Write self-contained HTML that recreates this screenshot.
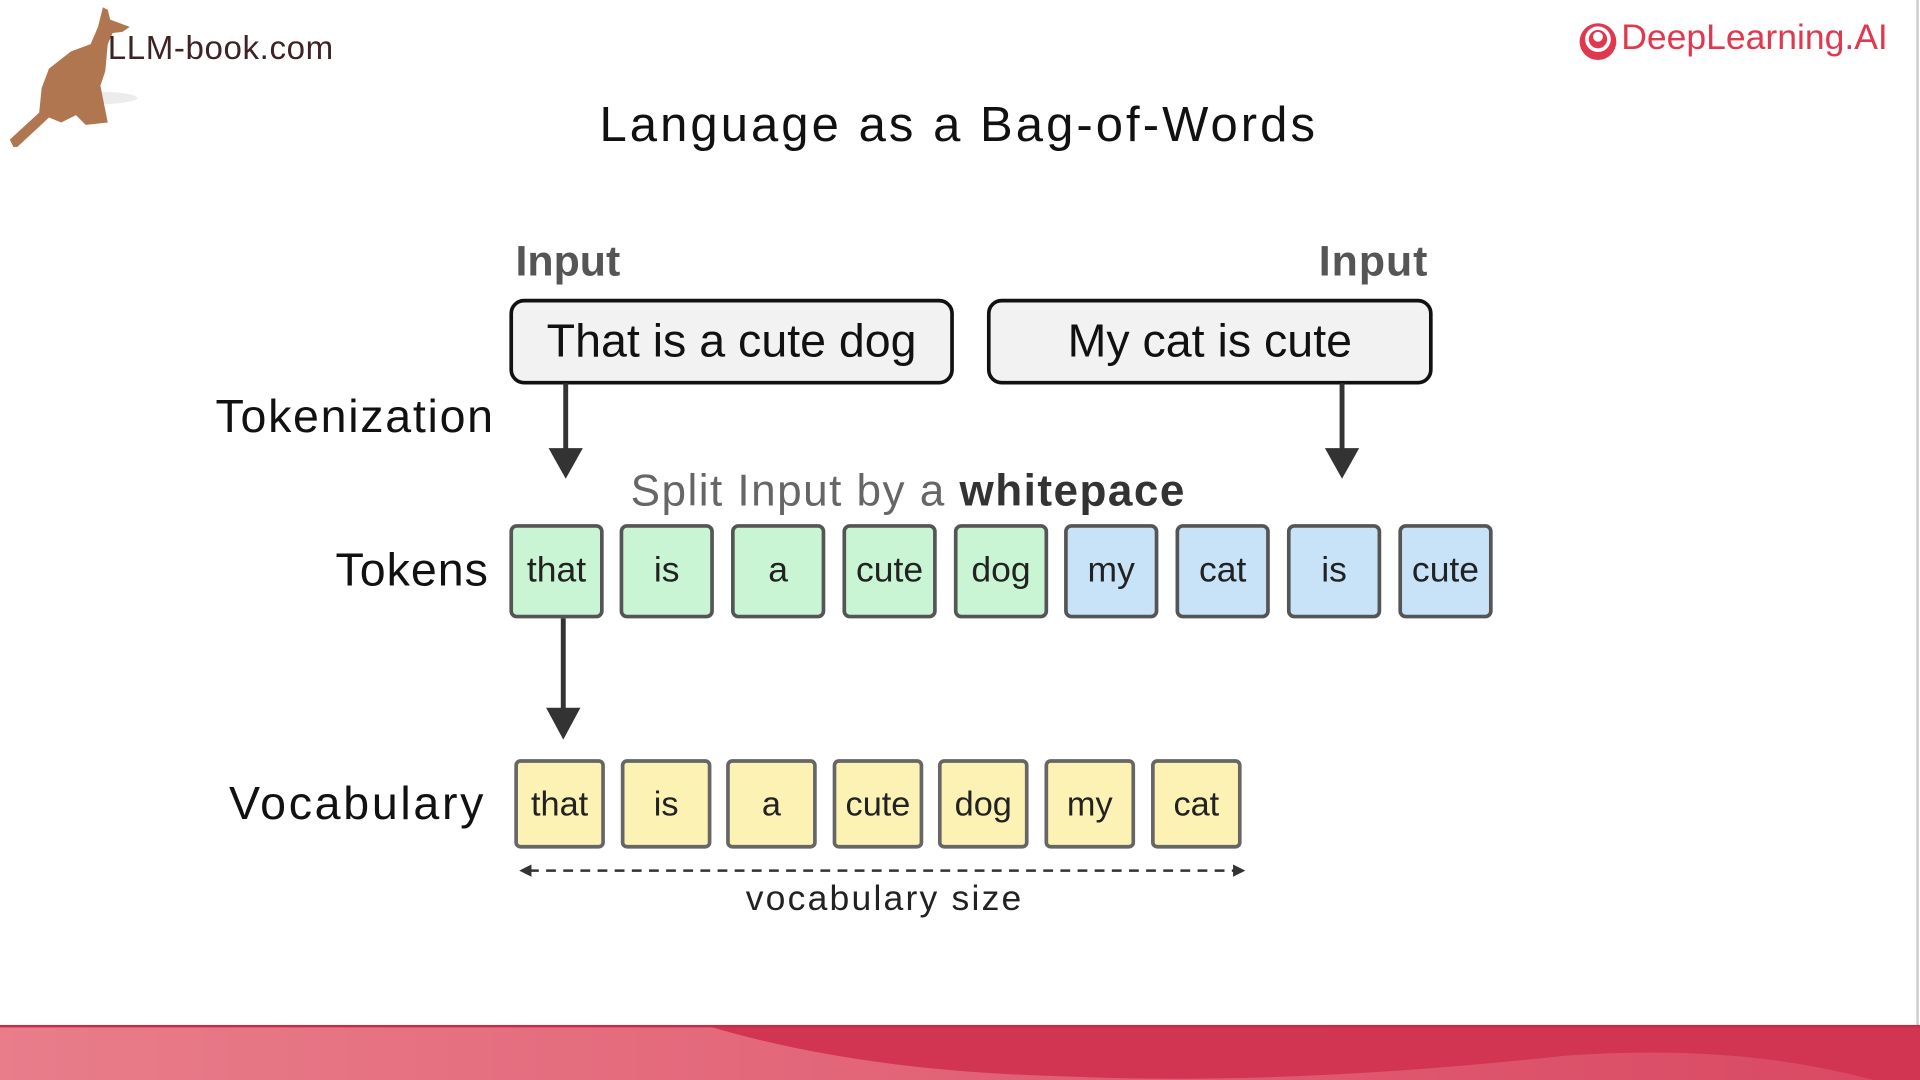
<!DOCTYPE html>
<html><head><meta charset="utf-8"><style>
html,body{margin:0;padding:0;width:1920px;height:1080px;overflow:hidden;background:#fff}
#w{position:absolute;left:0;top:0;width:1568px;height:882px;transform:scale(1.22449);transform-origin:0 0;font-family:"Liberation Sans",sans-serif}
.a{position:absolute;white-space:nowrap}
.box{position:absolute;border:3.5px solid #111;border-radius:12px;background:#f2f2f2;box-sizing:border-box;display:flex;align-items:center;justify-content:center;font-size:38px;color:#111}
.t{position:absolute;top:428px;width:77px;height:77px;box-sizing:border-box;border:3px solid #555;border-radius:6px;display:flex;align-items:center;justify-content:center;font-size:29px;color:#222}
.g{background:#c9f5d5}.b{background:#c8e2f8}
.v{position:absolute;top:620px;width:74px;height:73px;box-sizing:border-box;border:3px solid #666;border-radius:5px;background:#fbf2b4;display:flex;align-items:center;justify-content:center;font-size:28px;color:#222}
.lab{position:absolute;font-size:38px;color:#111;text-align:right;white-space:nowrap}
</style></head><body><div id="w">
<svg class="a" style="left:0;top:0" width="120" height="120" viewBox="0 0 120 120">
<ellipse cx="82" cy="80" rx="30" ry="5" fill="#e4e4e4" opacity=".7"/>
<path d="M84 6 L88 8 L90 16 L106 22 L100 26 L92 27 L88 36 L86 58 L82 70 L88 100 L70 102 L62 94 L50 100 L40 96 L12 122 L8 114 L32 92 L34 72 L40 56 L58 42 L74 36 L80 22 Z" fill="#b07650"/>
</svg>
<div class="a" style="left:88px;top:24px;font-size:27px;letter-spacing:0.5px;color:#3e2326">LLM-book.com</div>
<svg class="a" style="left:1288px;top:17px" width="34" height="34"><circle cx="17" cy="17" r="15" fill="#e0394f"/><circle cx="17" cy="15" r="9" fill="none" stroke="#fff" stroke-width="3"/><circle cx="17" cy="13" r="4" fill="#fff"/></svg>
<div class="a" style="left:1324px;top:15px;font-size:29px;color:#e0394f">DeepLearning.AI</div>
<div class="a" style="left:0;width:1566px;text-align:center;top:80px;font-size:40px;letter-spacing:2.5px;color:#111">Language as a Bag-of-Words</div>
<div class="a" style="left:421px;top:194px;font-size:35px;font-weight:bold;color:#555">Input</div>
<div class="a" style="left:1077px;top:194px;font-size:35px;font-weight:bold;color:#555;letter-spacing:0.8px">Input</div>
<div class="box" style="left:416px;top:244px;width:363px;height:70px">That is a cute dog</div>
<div class="box" style="left:806px;top:244px;width:364px;height:70px">My cat is cute</div>
<div class="lab" style="left:176px;top:320px;letter-spacing:1.4px">Tokenization</div>
<svg class="a" style="left:0;top:0;overflow:visible" width="1568" height="882">
<g fill="#333" stroke="#333" stroke-width="4">
<line x1="462" y1="313" x2="462" y2="370"/><polygon points="448,366 476,366 462,391" stroke="none"/>
<line x1="1096" y1="313" x2="1096" y2="370"/><polygon points="1082,366 1110,366 1096,391" stroke="none"/>
<line x1="460" y1="505" x2="460" y2="582"/><polygon points="446,578 474,578 460,604" stroke="none"/>
</g>
<line x1="432" y1="711" x2="1008" y2="711" stroke="#333" stroke-width="2" stroke-dasharray="8,6"/>
<polygon points="424,711 434,706 434,716" fill="#333"/><polygon points="1017,711 1007,706 1007,716" fill="#333"/>
</svg>
<div class="a" style="left:515px;top:380px;font-size:36px;letter-spacing:1.2px;color:#666">Split Input by a <b style="color:#333">whitepace</b></div>
<div class="lab" style="left:274px;top:445px;letter-spacing:0.8px">Tokens</div>
<div class="t g" style="left:416px">that</div><div class="t g" style="left:506px">is</div><div class="t g" style="left:597px">a</div><div class="t g" style="left:688px">cute</div><div class="t g" style="left:779px">dog</div>
<div class="t b" style="left:869px">my</div><div class="t b" style="left:960px">cat</div><div class="t b" style="left:1051px">is</div><div class="t b" style="left:1142px">cute</div>
<div class="lab" style="left:187px;top:636px;letter-spacing:2.2px">Vocabulary</div>
<div class="v" style="left:420px">that</div><div class="v" style="left:507px">is</div><div class="v" style="left:593px">a</div><div class="v" style="left:680px">cute</div><div class="v" style="left:766px">dog</div><div class="v" style="left:853px">my</div><div class="v" style="left:940px">cat</div>
<div class="a" style="left:609px;top:718px;font-size:29px;letter-spacing:1.8px;color:#222">vocabulary size</div>
<div class="a" style="left:1565px;top:0;width:2px;height:838px;background:#ccc"></div>
<svg class="a" style="left:0;top:837px" width="1568" height="45" viewBox="0 0 1568 45">
<defs><linearGradient id="lg" x1="0" x2="1"><stop offset="0" stop-color="#e97d8a"/><stop offset="1" stop-color="#d94862"/></linearGradient></defs>
<rect width="1568" height="45" fill="url(#lg)"/>
<path d="M575 0 L1568 0 L1568 45 L1530 45 Q1420 15 1280 25 Q1050 50 870 42 Q700 38 575 0Z" fill="#d13551"/>
<rect width="1568" height="2" fill="#c42c48"/>
</svg>
</div></body></html>
